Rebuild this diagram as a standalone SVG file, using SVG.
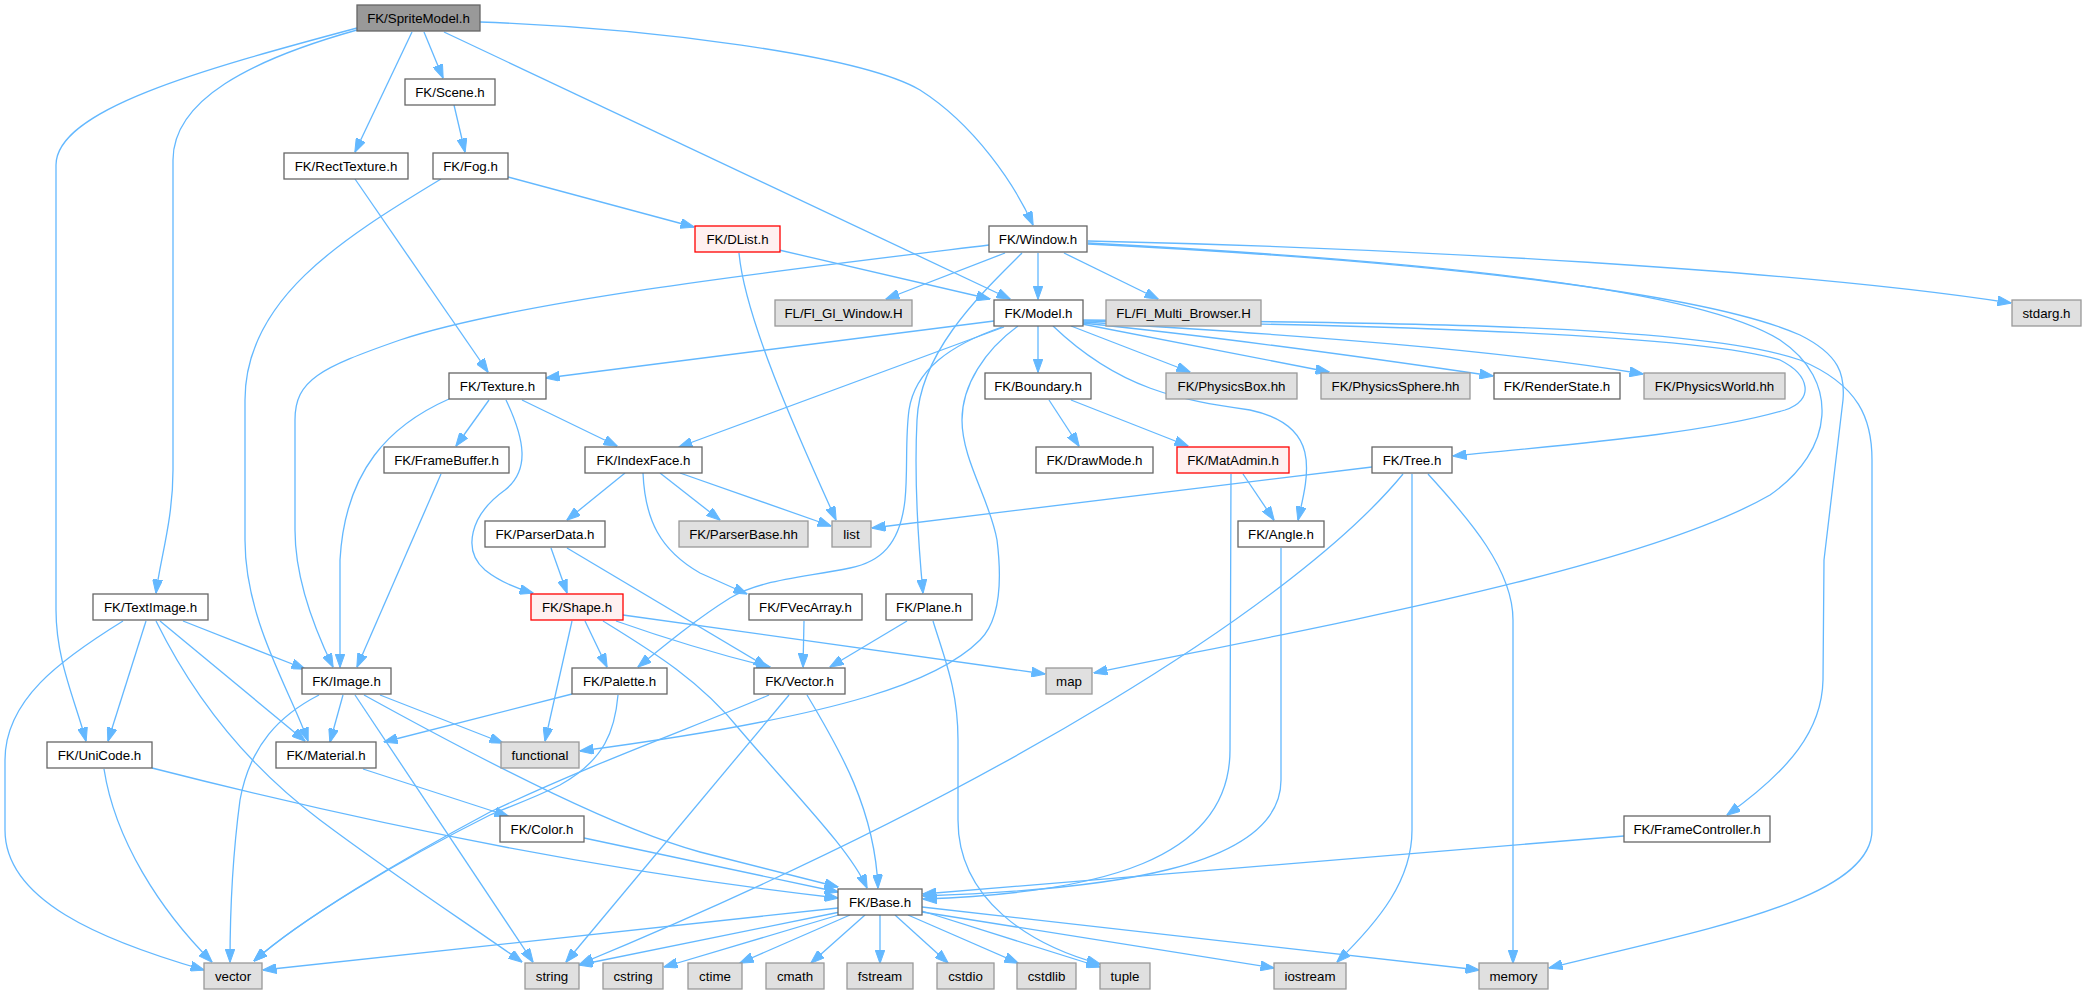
<svg xmlns="http://www.w3.org/2000/svg" width="2086" height="994" viewBox="0 0 2086 994">
<style>
.node rect{fill:#ffffff;stroke:#666666;stroke-width:1.3}
.node.ext rect{fill:#e0e0e0;stroke:#999999}
.node.root rect{fill:#999999;stroke:#666666}
.node.trunc rect{fill:#fff0f0;stroke:#ff0000}
.node text{font-family:"Liberation Sans",Arial,sans-serif;font-size:13.3px;fill:#000000;text-anchor:middle}
.edges path{fill:none;stroke:#63b8ff;stroke-width:1.3;marker-end:url(#arr)}
</style>
<defs>
<marker id="arr" markerUnits="userSpaceOnUse" markerWidth="14" markerHeight="10" refX="13.5" refY="5" orient="auto" viewBox="0 0 14 10">
<path d="M0,0 L14,5 L0,10 z" fill="#63b8ff" stroke="#63b8ff" stroke-width="1"/>
</marker>
</defs>
<rect x="0" y="0" width="2086" height="994" fill="#ffffff"/>
<g id="edges" class="edges">
<path d="M424,32 L443,78"/>
<path d="M412,32 L355,152"/>
<path d="M444,32 L1010,299"/>
<path d="M480,22 C650,28 860,55 920,90 C975,125 1015,185 1033,225"/>
<path d="M357,30 C250,60 173,100 173,160 L173,470 C173,520 160,560 156,593"/>
<path d="M357,28 C200,70 56,110 56,165 L56,610 C56,660 75,700 86,741"/>
<path d="M454,105 L465,152"/>
<path d="M355,179 L488,372"/>
<path d="M508,177 L694,227"/>
<path d="M441,179 C340,240 245,300 245,400 L245,540 C245,620 290,690 308,741"/>
<path d="M779,250 L990,299"/>
<path d="M739,253 C745,320 800,440 836,520"/>
<path d="M1005,253 L886,299"/>
<path d="M1038,253 L1038,299"/>
<path d="M1064,253 L1158,299"/>
<path d="M1088,241 C1400,248 1800,270 2011,303"/>
<path d="M1088,243 C1450,262 1700,290 1780,340 C1840,380 1835,450 1770,495 C1640,570 1300,630 1094,673"/>
<path d="M1088,244 C1450,262 1710,295 1800,335 C1840,355 1845,375 1843,400 L1824,560 L1823,680 C1822,730 1790,770 1727,815"/>
<path d="M1022,253 C985,290 920,350 917,420 C914,480 918,540 923,593"/>
<path d="M989,245 C800,268 520,300 400,340 C320,368 295,380 295,420 L295,530 C295,580 315,630 333,667"/>
<path d="M994,321 L546,378"/>
<path d="M1004,327 L679,447"/>
<path d="M1002,327 C950,345 915,370 909,410 C905,440 908,470 905,500 C900,545 880,562 850,568 C800,578 760,580 730,598 C695,620 665,645 638,667"/>
<path d="M1018,326 C985,350 962,385 962,420 C962,460 990,500 997,540 C1002,580 1000,620 980,640 C940,680 850,715 580,751"/>
<path d="M1038,326 L1038,372"/>
<path d="M1053,326 C1120,390 1180,400 1250,410 C1320,425 1310,470 1298,520"/>
<path d="M1071,326 L1190,372"/>
<path d="M1082,324 L1329,372"/>
<path d="M1082,323 C1200,335 1350,355 1493,376"/>
<path d="M1082,322 C1300,335 1500,350 1643,374"/>
<path d="M1082,321 C1400,325 1700,335 1780,360 C1810,375 1815,400 1785,410 C1700,435 1560,445 1453,456"/>
<path d="M1082,320 C1400,322 1700,325 1800,360 C1860,385 1872,420 1872,460 L1872,830 C1872,900 1700,930 1549,968"/>
<path d="M489,400 L456,446"/>
<path d="M522,400 L617,446"/>
<path d="M506,400 C525,440 530,470 505,490 C470,515 462,550 485,570 C500,582 515,588 533,593"/>
<path d="M449,399 C390,425 345,470 340,560 L340,667"/>
<path d="M441,474 L357,667"/>
<path d="M625,473 L567,520"/>
<path d="M680,473 L831,526"/>
<path d="M660,473 L720,520"/>
<path d="M643,473 C645,520 660,550 700,573 L747,594"/>
<path d="M551,548 L567,593"/>
<path d="M567,548 L767,667"/>
<path d="M804,621 L803,667"/>
<path d="M907,621 L830,667"/>
<path d="M933,621 C945,660 958,690 958,740 L958,820 C958,900 1030,945 1100,964"/>
<path d="M572,621 L545,741"/>
<path d="M585,621 L607,667"/>
<path d="M616,621 C670,640 720,655 770,667"/>
<path d="M603,621 C650,650 700,680 740,730 C800,800 850,850 867,888"/>
<path d="M623,615 L1045,674"/>
<path d="M807,695 C840,750 875,810 878,888"/>
<path d="M789,695 L566,962"/>
<path d="M769,695 C700,725 600,760 490,812 C400,860 300,920 254,961"/>
<path d="M618,695 C615,730 605,760 560,785 C530,800 505,808 490,815 C400,860 300,920 254,961"/>
<path d="M572,694 L384,742"/>
<path d="M343,695 L330,742"/>
<path d="M380,695 L503,743"/>
<path d="M355,695 L533,962"/>
<path d="M319,695 C280,715 250,745 240,800 C232,860 230,910 230,962"/>
<path d="M364,695 C500,770 620,830 700,852 L838,887"/>
<path d="M183,621 L305,669"/>
<path d="M146,621 L108,741"/>
<path d="M160,621 L305,741"/>
<path d="M156,621 C190,690 240,760 320,820 C400,880 470,925 522,962"/>
<path d="M123,621 C60,660 5,700 5,760 L5,830 C5,900 100,940 204,970"/>
<path d="M104,769 C115,840 160,910 212,962"/>
<path d="M152,768 Q520,862 838,898"/>
<path d="M363,769 L508,816"/>
<path d="M584,838 L838,892"/>
<path d="M838,908 L263,970"/>
<path d="M840,912 L579,965"/>
<path d="M842,914 L664,967"/>
<path d="M850,915 L740,963"/>
<path d="M865,915 L811,963"/>
<path d="M880,915 L880,963"/>
<path d="M895,915 L948,963"/>
<path d="M908,915 L1018,963"/>
<path d="M922,911 L1100,967"/>
<path d="M922,912 L1274,968"/>
<path d="M922,907 L1479,970"/>
<path d="M1412,474 L1412,830 C1412,880 1380,920 1337,962"/>
<path d="M1428,474 C1470,520 1513,570 1513,620 L1513,963"/>
<path d="M1372,467 L872,528"/>
<path d="M1403,474 C1300,600 1000,790 580,964"/>
<path d="M1243,474 L1274,520"/>
<path d="M1231,474 L1230,750 C1230,860 1100,893 923,899"/>
<path d="M1281,548 L1281,780 C1281,870 1100,890 923,896"/>
<path d="M1624,836 L923,894"/>
<path d="M1049,400 L1079,446"/>
<path d="M1071,400 L1188,446"/>
</g>
<g id="node-SpriteModel" class="node root"><rect x="357" y="5" width="123" height="26"/><text x="418.5" y="22.5">FK/SpriteModel.h</text></g>
<g id="node-Scene" class="node"><rect x="405" y="79" width="90" height="26"/><text x="450" y="96.5">FK/Scene.h</text></g>
<g id="node-RectTexture" class="node"><rect x="284" y="153" width="124" height="26"/><text x="346" y="170.5">FK/RectTexture.h</text></g>
<g id="node-Fog" class="node"><rect x="433" y="153" width="75" height="26"/><text x="470.5" y="170.5">FK/Fog.h</text></g>
<g id="node-DList" class="node trunc"><rect x="695" y="226" width="85" height="26"/><text x="737.5" y="243.5">FK/DList.h</text></g>
<g id="node-Window" class="node"><rect x="989" y="226" width="98" height="26"/><text x="1038" y="243.5">FK/Window.h</text></g>
<g id="node-FlGlWindow" class="node ext"><rect x="775" y="300" width="137" height="26"/><text x="843.5" y="317.5">FL/Fl_Gl_Window.H</text></g>
<g id="node-Model" class="node"><rect x="994" y="300" width="89" height="26"/><text x="1038.5" y="317.5">FK/Model.h</text></g>
<g id="node-FlMultiBrowser" class="node ext"><rect x="1106" y="300" width="155" height="26"/><text x="1183.5" y="317.5">FL/Fl_Multi_Browser.H</text></g>
<g id="node-stdarg" class="node ext"><rect x="2012" y="300" width="69" height="26"/><text x="2046.5" y="317.5">stdarg.h</text></g>
<g id="node-Texture" class="node"><rect x="449" y="373" width="97" height="26"/><text x="497.5" y="390.5">FK/Texture.h</text></g>
<g id="node-Boundary" class="node"><rect x="985" y="373" width="106" height="26"/><text x="1038" y="390.5">FK/Boundary.h</text></g>
<g id="node-PhysicsBox" class="node ext"><rect x="1166" y="373" width="131" height="26"/><text x="1231.5" y="390.5">FK/PhysicsBox.hh</text></g>
<g id="node-PhysicsSphere" class="node ext"><rect x="1321" y="373" width="149" height="26"/><text x="1395.5" y="390.5">FK/PhysicsSphere.hh</text></g>
<g id="node-RenderState" class="node"><rect x="1494" y="373" width="126" height="26"/><text x="1557" y="390.5">FK/RenderState.h</text></g>
<g id="node-PhysicsWorld" class="node ext"><rect x="1644" y="373" width="141" height="26"/><text x="1714.5" y="390.5">FK/PhysicsWorld.hh</text></g>
<g id="node-FrameBuffer" class="node"><rect x="384" y="447" width="125" height="26"/><text x="446.5" y="464.5">FK/FrameBuffer.h</text></g>
<g id="node-IndexFace" class="node"><rect x="585" y="447" width="117" height="26"/><text x="643.5" y="464.5">FK/IndexFace.h</text></g>
<g id="node-DrawMode" class="node"><rect x="1036" y="447" width="117" height="26"/><text x="1094.5" y="464.5">FK/DrawMode.h</text></g>
<g id="node-MatAdmin" class="node trunc"><rect x="1177" y="447" width="112" height="26"/><text x="1233" y="464.5">FK/MatAdmin.h</text></g>
<g id="node-Tree" class="node"><rect x="1372" y="447" width="80" height="26"/><text x="1412" y="464.5">FK/Tree.h</text></g>
<g id="node-ParserData" class="node"><rect x="485" y="521" width="120" height="26"/><text x="545" y="538.5">FK/ParserData.h</text></g>
<g id="node-ParserBase" class="node ext"><rect x="679" y="521" width="129" height="26"/><text x="743.5" y="538.5">FK/ParserBase.hh</text></g>
<g id="node-list" class="node ext"><rect x="832" y="521" width="39" height="26"/><text x="851.5" y="538.5">list</text></g>
<g id="node-Angle" class="node"><rect x="1238" y="521" width="86" height="26"/><text x="1281" y="538.5">FK/Angle.h</text></g>
<g id="node-TextImage" class="node"><rect x="93" y="594" width="115" height="26"/><text x="150.5" y="611.5">FK/TextImage.h</text></g>
<g id="node-Shape" class="node trunc"><rect x="531" y="594" width="92" height="26"/><text x="577" y="611.5">FK/Shape.h</text></g>
<g id="node-FVecArray" class="node"><rect x="749" y="594" width="113" height="26"/><text x="805.5" y="611.5">FK/FVecArray.h</text></g>
<g id="node-Plane" class="node"><rect x="886" y="594" width="86" height="26"/><text x="929" y="611.5">FK/Plane.h</text></g>
<g id="node-Image" class="node"><rect x="302" y="668" width="89" height="26"/><text x="346.5" y="685.5">FK/Image.h</text></g>
<g id="node-Palette" class="node"><rect x="572" y="668" width="95" height="26"/><text x="619.5" y="685.5">FK/Palette.h</text></g>
<g id="node-Vector" class="node"><rect x="754" y="668" width="91" height="26"/><text x="799.5" y="685.5">FK/Vector.h</text></g>
<g id="node-map" class="node ext"><rect x="1046" y="668" width="46" height="26"/><text x="1069" y="685.5">map</text></g>
<g id="node-UniCode" class="node"><rect x="47" y="742" width="105" height="26"/><text x="99.5" y="759.5">FK/UniCode.h</text></g>
<g id="node-Material" class="node"><rect x="276" y="742" width="100" height="26"/><text x="326" y="759.5">FK/Material.h</text></g>
<g id="node-functional" class="node ext"><rect x="501" y="742" width="78" height="26"/><text x="540" y="759.5">functional</text></g>
<g id="node-Color" class="node"><rect x="500" y="816" width="84" height="26"/><text x="542" y="833.5">FK/Color.h</text></g>
<g id="node-FrameController" class="node"><rect x="1624" y="816" width="146" height="26"/><text x="1697" y="833.5">FK/FrameController.h</text></g>
<g id="node-Base" class="node"><rect x="838" y="889" width="84" height="26"/><text x="880" y="906.5">FK/Base.h</text></g>
<g id="node-vector" class="node ext"><rect x="204" y="963" width="58" height="26"/><text x="233" y="980.5">vector</text></g>
<g id="node-string" class="node ext"><rect x="525" y="963" width="54" height="26"/><text x="552" y="980.5">string</text></g>
<g id="node-cstring" class="node ext"><rect x="603" y="963" width="60" height="26"/><text x="633" y="980.5">cstring</text></g>
<g id="node-ctime" class="node ext"><rect x="688" y="963" width="54" height="26"/><text x="715" y="980.5">ctime</text></g>
<g id="node-cmath" class="node ext"><rect x="766" y="963" width="58" height="26"/><text x="795" y="980.5">cmath</text></g>
<g id="node-fstream" class="node ext"><rect x="847" y="963" width="66" height="26"/><text x="880" y="980.5">fstream</text></g>
<g id="node-cstdio" class="node ext"><rect x="937" y="963" width="57" height="26"/><text x="965.5" y="980.5">cstdio</text></g>
<g id="node-cstdlib" class="node ext"><rect x="1017" y="963" width="59" height="26"/><text x="1046.5" y="980.5">cstdlib</text></g>
<g id="node-tuple" class="node ext"><rect x="1100" y="963" width="50" height="26"/><text x="1125" y="980.5">tuple</text></g>
<g id="node-iostream" class="node ext"><rect x="1274" y="963" width="72" height="26"/><text x="1310" y="980.5">iostream</text></g>
<g id="node-memory" class="node ext"><rect x="1479" y="963" width="69" height="26"/><text x="1513.5" y="980.5">memory</text></g>
</svg>
